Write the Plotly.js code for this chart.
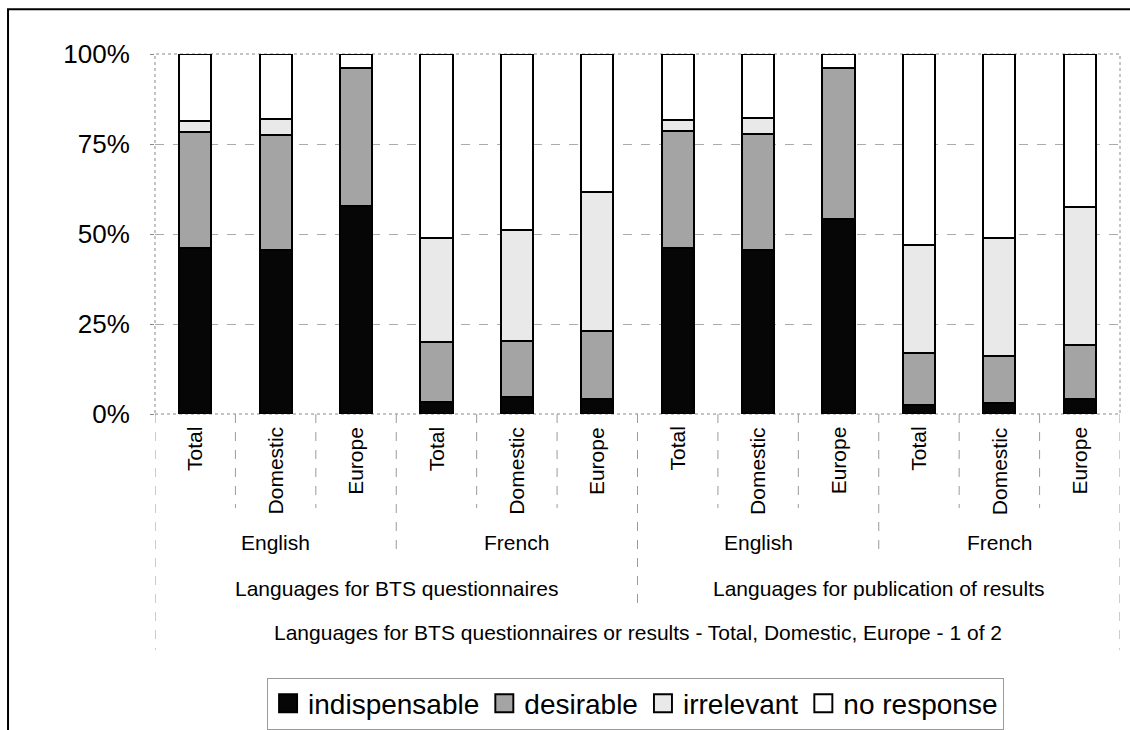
<!DOCTYPE html>
<html>
<head>
<meta charset="utf-8">
<script src="https://cdn.plot.ly/plotly-3.0.1.min.js"></script>
<style>
  html, body { margin: 0; padding: 0; background: #fff; }
  #chart { width: 1130px; height: 730px; }
</style>
</head>
<body>
<div id="chart"></div>
<script>
// ---- data ----
const subLabels = ['Total', 'Domestic', 'Europe', 'Total', 'Domestic', 'Europe',
                   'Total', 'Domestic', 'Europe', 'Total', 'Domestic', 'Europe'];
const langLabels = ['English', 'French', 'English', 'French'];
const sectionLabels = ['Languages for BTS questionnaires', 'Languages for publication of results'];
const chartTitle = 'Languages for BTS questionnaires or results - Total, Domestic, Europe - 1 of 2';
const seriesNames = ['indispensable', 'desirable', 'irrelevant', 'no response'];
const yTickVals = [0, 25, 50, 75, 100];
const yTickText = ['0%', '25%', '50%', '75%', '100%'];

const indispensable = [46.0, 45.5, 57.9, 3.2, 4.6, 4.2, 46.0, 45.6, 54.3, 2.5, 3.0, 4.1];
const desirable     = [32.3, 32.0, 38.1, 16.8, 15.8, 18.9, 32.5, 32.1, 41.9, 14.5, 13.1, 15.1];
const irrelevant    = [3.1, 4.5, 0.0, 29.0, 30.7, 38.5, 3.2, 4.6, 0.0, 30.0, 32.7, 38.4];
const noResponse    = [18.6, 18.0, 4.0, 51.0, 48.9, 38.4, 18.3, 17.7, 3.8, 53.0, 51.2, 42.4];

// ---- styles ----
const FONT = '"Liberation Sans", Arial, sans-serif';
const fills = ['#060606', '#a4a4a4', '#e9e9e9', '#ffffff'];
const sepColor = '#9a9a9a';

const xs = subLabels.map((_, i) => i);
const series = [indispensable, desirable, irrelevant, noResponse];

const traces = series.map((vals, k) => ({
  type: 'bar',
  name: seriesNames[k],
  x: xs,
  y: vals,
  marker: { color: fills[k], line: { color: '#000', width: 2 } },
  hoverinfo: 'skip'
}));

const annotations = [];
const shapes = [];

// level 1 labels (rotated)
subLabels.forEach((t, i) => {
  annotations.push({
    x: i, xref: 'x', y: -0.03, yref: 'paper',
    text: t, textangle: -90, showarrow: false,
    xanchor: 'center', yanchor: 'top',
    font: { family: FONT, size: 21, color: '#000' }
  });
});
// level 2 labels (3 categories each)
const langSize = subLabels.length / langLabels.length;
langLabels.forEach((t, j) => {
  annotations.push({
    x: j * langSize + (langSize - 1) / 2, xref: 'x', y: -0.358, yref: 'paper',
    text: t, showarrow: false, xanchor: 'center', yanchor: 'middle',
    font: { family: FONT, size: 21, color: '#000' }
  });
});
// level 3 labels
const secSize = subLabels.length / sectionLabels.length;
sectionLabels.forEach((t, j) => {
  annotations.push({
    x: j * secSize + (secSize - 1) / 2, xref: 'x', y: -0.486, yref: 'paper',
    text: t, showarrow: false, xanchor: 'center', yanchor: 'middle',
    font: { family: FONT, size: 21, color: '#000' }
  });
});
// overall axis title
annotations.push({
  x: (subLabels.length - 1) / 2, xref: 'x', y: -0.606, yref: 'paper',
  text: chartTitle, showarrow: false, xanchor: 'center', yanchor: 'middle',
  font: { family: FONT, size: 21, color: '#000' }
});

// separators
function sep(xb, yEnd) {
  shapes.push({ type: 'line', xref: 'x', yref: 'paper', x0: xb, x1: xb, y0: 0, y1: yEnd,
    line: { color: sepColor, width: 1, dash: 'dash' } });
}
for (let b = 0; b <= subLabels.length; b++) {
  const xb = b - 0.5;
  if (b === 0 || b === subLabels.length) sep(xb, -0.656);
  else if (b % secSize === 0) sep(xb, -0.525);
  else if (b % langSize === 0) sep(xb, -0.394);
  else sep(xb, -0.261);
}

// plot-area border (dotted)
shapes.push({ type: 'rect', xref: 'paper', yref: 'paper', x0: 0, x1: 1, y0: 0, y1: 1,
  line: { color: '#8a8a8a', width: 1, dash: 'dot' }, layer: 'below' });
// outer chart frame
shapes.push({ type: 'rect', xref: 'paper', yref: 'paper', x0: -0.1523, x1: 1.05, y0: -1.2, y1: 1.124,
  line: { color: '#000', width: 2 } });

const layout = {
  width: 1130, height: 730,
  margin: { l: 155, r: 10, t: 54, b: 316, autoexpand: false },
  paper_bgcolor: '#fff', plot_bgcolor: '#fff',
  barmode: 'stack', bargap: 0.6,
  showlegend: true,
  legend: {
    orientation: 'h', x: 0.498, xanchor: 'center', y: -0.732, yanchor: 'top',
    font: { family: FONT, size: 28, color: '#000' },
    bordercolor: '#9a9a9a', borderwidth: 1, traceorder: 'normal',
    itemwidth: 30
  },
  xaxis: {
    range: [-0.5, subLabels.length - 0.5],
    showticklabels: false, showgrid: false, zeroline: false, ticks: '',
    showline: false, fixedrange: true
  },
  yaxis: {
    range: [0, 100], tickmode: 'array', tickvals: yTickVals, ticktext: yTickText,
    tickfont: { family: FONT, size: 26, color: '#000' },
    showgrid: true, gridcolor: '#ababab', griddash: 'dash', gridwidth: 1,
    zeroline: false, showline: false, ticks: 'outside', ticklen: 4, tickcolor: '#8a8a8a',
    ticklabelstandoff: 15, fixedrange: true
  },
  annotations: annotations,
  shapes: shapes,
  font: { family: FONT, color: '#000' }
};

Plotly.newPlot('chart', traces, layout, { displayModeBar: false, staticPlot: true }).then(gd => {
  // enlarge legend swatches to match the reference's bigger squares
  gd.querySelectorAll('.legend .legendpoints path').forEach(p => {
    const t = p.getAttribute('transform') || '';
    p.setAttribute('transform', t + ' scale(1.5)');
    p.style.strokeWidth = '1.3px';
  });
});
</script>
</body>
</html>
